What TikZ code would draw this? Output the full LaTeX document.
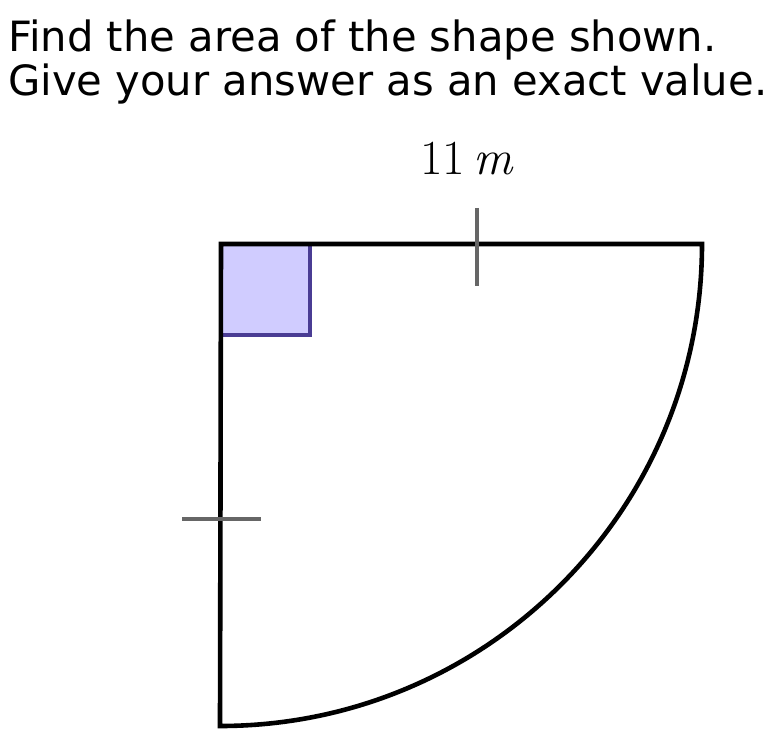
\documentclass[tikz,border=0pt]{standalone}
\usepackage{fontspec}
\newfontfamily\promptfont{DejaVu Sans}
\usetikzlibrary{positioning}
\definecolor{squarefill}{HTML}{D0CCFF}
\definecolor{squaredraw}{HTML}{4A3C94}
\tikzset{
  prompt/.style={anchor=base west,inner sep=0pt,font=\promptfont\fontsize{41.7}{44}\selectfont},
  sidelabel/.style={inner sep=0pt,font=\fontsize{49}{54}\selectfont},
  outline/.style={line width=4.6pt,draw=black,line join=miter},
  tickmark/.style={line width=4pt,draw=black!60},
  rightangle/.style={fill=squarefill,draw=squaredraw,line width=3.6pt}
}
\begin{document}
\begin{tikzpicture}[x=1pt,y=-1pt]
\useasboundingbox (0,0) rectangle (771,746);

% question
\node[prompt] (line1) at (8,52) {Find the area of the shape shown.};
\node[prompt] (line2) at (8,96) {Give your answer as an exact value.};

% corners of the quarter circle
\coordinate (centre) at (221,244);
\coordinate (topend) at (702,244);

% right angle box
\draw[rightangle] (centre) rectangle (310,335);

% sector
\draw[outline] (centre) -- (topend) arc[start angle=0,end angle=-90,radius=482pt] -- cycle;

% equal side ticks
\coordinate (ttop) at (477,208);
\coordinate (tbot) at (477,286);
\draw[tickmark] (ttop) -- (tbot);
\coordinate (tleft) at (182,519);
\coordinate (tright) at (261,519);
\draw[tickmark] (tleft) -- (tright);

\node[sidelabel] (radius) at (467,159) {11\,\textit{m}};
\end{tikzpicture}
\end{document}
